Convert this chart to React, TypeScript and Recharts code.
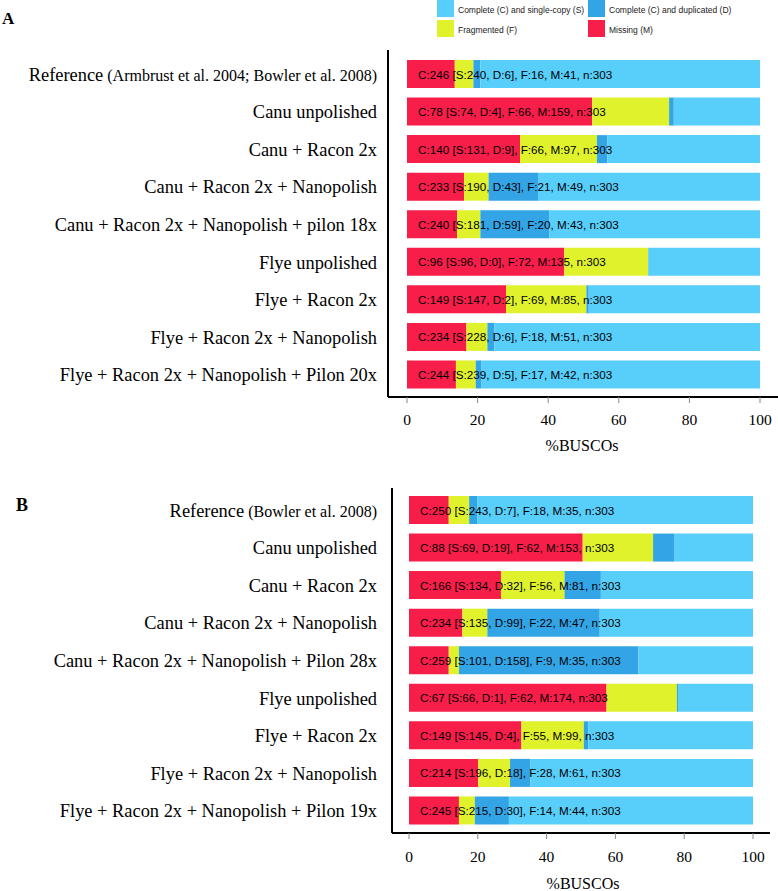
import React from "react";
import { BarChart, Bar, XAxis, YAxis, LabelList } from "recharts";

const TOTAL = 303;

const categoriesA = [
  "Reference (Armbrust et al. 2004; Bowler et al. 2008)",
  "Canu unpolished",
  "Canu + Racon 2x",
  "Canu + Racon 2x + Nanopolish",
  "Canu + Racon 2x + Nanopolish + pilon 18x",
  "Flye unpolished",
  "Flye + Racon 2x",
  "Flye + Racon 2x + Nanopolish",
  "Flye + Racon 2x + Nanopolish + Pilon 20x",
];
const singleA = [240, 74, 131, 190, 181, 96, 147, 228, 239];
const dupA = [6, 4, 9, 43, 59, 0, 2, 6, 5];
const fragA = [16, 66, 66, 21, 20, 72, 69, 18, 17];
const missA = [41, 159, 97, 49, 43, 135, 85, 51, 42];

const categoriesB = [
  "Reference (Bowler et al. 2008)",
  "Canu unpolished",
  "Canu + Racon 2x",
  "Canu + Racon 2x + Nanopolish",
  "Canu + Racon 2x + Nanopolish + Pilon 28x",
  "Flye unpolished",
  "Flye + Racon 2x",
  "Flye + Racon 2x + Nanopolish",
  "Flye + Racon 2x + Nanopolish + Pilon 19x",
];
const singleB = [243, 69, 134, 135, 101, 66, 145, 196, 215];
const dupB = [7, 19, 32, 99, 158, 1, 4, 18, 30];
const fragB = [18, 62, 56, 22, 9, 62, 55, 28, 14];
const missB = [35, 153, 81, 47, 35, 174, 99, 61, 44];

const xTicks = [0, 20, 40, 60, 80, 100];

const COLORS = {
  S: "#58CEFA",
  D: "#33A4E6",
  F: "#DFF22C",
  M: "#F71E4A",
};

const SERIF = "'Liberation Serif', 'Times New Roman', Times, serif";
const SANS = "'Liberation Sans', Arial, Helvetica, sans-serif";

function buildRows(cats: string[], s: number[], d: number[], f: number[], m: number[]) {
  return cats.map((c, i) => ({
    name: c,
    S: (s[i] / TOTAL) * 100,
    D: (d[i] / TOTAL) * 100,
    F: (f[i] / TOTAL) * 100,
    M: (m[i] / TOTAL) * 100,
    text: `C:${s[i] + d[i]} [S:${s[i]}, D:${d[i]}], F:${f[i]}, M:${m[i]}, n:${TOTAL}`,
  }));
}

const dataA = buildRows(categoriesA, singleA, dupA, fragA, missA);
const dataB = buildRows(categoriesB, singleB, dupB, fragB, missB);

const CatTick = (props: any) => {
  const { y, payload } = props;
  const s: string = payload.value;
  const i = s.indexOf(" (");
  const main = i >= 0 ? s.slice(0, i) : s;
  const note = i >= 0 ? s.slice(i) : "";
  return (
    <text x={377} y={y + 7} textAnchor="end" fontFamily={SERIF} fill="#000">
      <tspan fontSize={18.4}>{main}</tspan>
      {note ? <tspan fontSize={16}>{note}</tspan> : null}
    </text>
  );
};

const makeLabel = (data: any[]) => (props: any) => {
  const { x, y, height, index } = props;
  return (
    <text
      x={x + 11}
      y={y + height / 2}
      dominantBaseline="central"
      fontFamily={SANS}
      fontSize={11.7}
      fill="#000"
    >
      {data[index].text}
    </text>
  );
};

function Panel({
  data,
  height,
  margin,
  yWidth,
  xPad,
  yPad,
  xHeight,
  tickMargin,
}: any) {
  return (
    <BarChart
      width={778}
      height={height}
      data={data}
      layout="vertical"
      margin={margin}
      barCategoryGap={0}
    >
      <XAxis
        type="number"
        domain={[0, 100]}
        ticks={xTicks}
        padding={xPad}
        height={xHeight}
        axisLine={{ stroke: "#000", strokeWidth: 2 }}
        tickLine={{ stroke: "#888" }}
        tickSize={6}
        tickMargin={tickMargin}
        tick={{ fontFamily: SERIF, fontSize: 15.5, fill: "#000" }}
      />
      <YAxis
        type="category"
        dataKey="name"
        width={yWidth}
        padding={yPad}
        axisLine={{ stroke: "#000", strokeWidth: 2 }}
        tickLine={false}
        tick={<CatTick />}
        interval={0}
      />
      <Bar dataKey="M" stackId="a" fill={COLORS.M} barSize={28} isAnimationActive={false}>
        <LabelList dataKey="M" content={makeLabel(data)} />
      </Bar>
      <Bar dataKey="F" stackId="a" fill={COLORS.F} barSize={28} isAnimationActive={false} />
      <Bar dataKey="D" stackId="a" fill={COLORS.D} barSize={28} isAnimationActive={false} />
      <Bar dataKey="S" stackId="a" fill={COLORS.S} barSize={28} isAnimationActive={false} />
    </BarChart>
  );
}

const legendItems = [
  { label: "Complete (C) and single-copy (S)", color: COLORS.S, x: 437, y: 0 },
  { label: "Complete (C) and duplicated (D)", color: COLORS.D, x: 588, y: 0 },
  { label: "Fragmented (F)", color: COLORS.F, x: 437, y: 20 },
  { label: "Missing (M)", color: COLORS.M, x: 588, y: 20 },
];

export default function App() {
  return (
    <div
      style={{
        position: "absolute",
        left: 0,
        top: 0,
        width: 778,
        height: 891,
        background: "#fff",
        overflow: "hidden",
      }}
    >
      <div style={{ position: "absolute", left: 0, top: 0 }}>
        <Panel
          data={dataA}
          height={460}
          margin={{ top: 50, right: 0, left: 0, bottom: 23 }}
          yWidth={388}
          xPad={{ left: 19, right: 18 }}
          yPad={{ top: 5, bottom: 4 }}
          xHeight={40}
          tickMargin={11}
        />
      </div>
      <div style={{ position: "absolute", left: 0, top: 440 }}>
        <Panel
          data={dataB}
          height={451}
          margin={{ top: 48, right: 8, left: 0, bottom: 18 }}
          yWidth={392}
          xPad={{ left: 17, right: 17 }}
          yPad={{ top: 3, bottom: 4 }}
          xHeight={40}
          tickMargin={12}
        />
      </div>
      <svg
        width={778}
        height={891}
        style={{ position: "absolute", left: 0, top: 0, pointerEvents: "none" }}
      >
        <text x={2} y={24} fontFamily={SERIF} fontWeight="bold" fontSize={17} fill="#000">
          A
        </text>
        <text x={16} y={511} fontFamily={SERIF} fontWeight="bold" fontSize={18} fill="#000">
          B
        </text>
        <text x={582} y={451} textAnchor="middle" fontFamily={SERIF} fontSize={16} fill="#000">
          %BUSCOs
        </text>
        <text x={583} y={889} textAnchor="middle" fontFamily={SERIF} fontSize={16} fill="#000">
          %BUSCOs
        </text>
        {legendItems.map((it) => (
          <g key={it.label}>
            <rect x={it.x} y={it.y} width={17} height={17} fill={it.color} />
            <text
              x={it.x + 21}
              y={it.y + 12.5}
              fontFamily={SANS}
              fontSize={8.5}
              fill="#222"
            >
              {it.label}
            </text>
          </g>
        ))}
      </svg>
    </div>
  );
}
